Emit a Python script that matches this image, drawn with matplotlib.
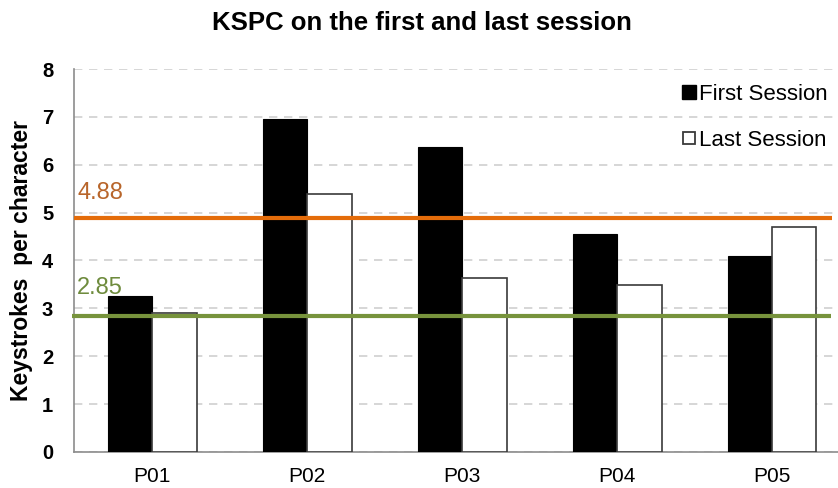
import matplotlib
matplotlib.use("Agg")
import matplotlib.pyplot as plt
import numpy as np
from matplotlib.lines import Line2D

categories = ["P01", "P02", "P03", "P04", "P05"]
first_session = [3.26, 6.95, 6.37, 4.56, 4.09]
last_session = [2.90, 5.38, 3.64, 3.49, 4.70]
ref_high = 4.88
ref_low = 2.85
ref_high_label = "4.88"
ref_low_label = "2.85"
y_ticks = [0, 1, 2, 3, 4, 5, 6, 7, 8]

plt.rcParams['font.family'] = ['Liberation Sans', 'DejaVu Sans']

fig = plt.figure(figsize=(8.38, 4.88), dpi=100)
ax = fig.add_axes([0.0883, 0.0738, 0.9117, 0.7848])

x = np.arange(len(categories))
w = 0.287
ax.bar(x - w / 2, first_session, w, color="black", edgecolor="black", linewidth=0.8, zorder=3)
ax.bar(x + w / 2, last_session, w, color="white", edgecolor="#3a3a3a", linewidth=1.2, zorder=3)

ax.hlines(ref_high, -0.505, 4.39, color="#E46C0A", linewidth=3, zorder=4)
ax.hlines(ref_low, -0.52, 4.38, color="#77933C", linewidth=3, zorder=4, clip_on=False)

ax.text(-0.485, ref_high + 0.52, ref_high_label, color="#B8652A", fontsize=17,
        ha="left", va="center", zorder=5)
ax.text(-0.485, ref_low + 0.58, ref_low_label, color="#6E8B3D", fontsize=17,
        ha="left", va="center", zorder=5)

ax.set_xlim(-0.505, 4.426)
ax.set_ylim(0, 8)
ax.set_yticks(y_ticks)
ax.set_yticklabels([str(t) for t in y_ticks], fontsize=14.5, fontweight="bold")
ax.set_xticks(x)
ax.set_xticklabels(categories, fontsize=15)
ax.tick_params(axis="y", length=0, pad=15)
ax.tick_params(axis="x", length=0, pad=11)

ax.yaxis.grid(True, linestyle=(0, (5, 4)), color="#d0d0d0", linewidth=1.2, zorder=0)
ax.set_axisbelow(True)
for s in ["top", "right"]:
    ax.spines[s].set_visible(False)
for s in ["left", "bottom"]:
    ax.spines[s].set_color("#8c8c8c")
    ax.spines[s].set_linewidth(1.2)

ax.set_ylabel("Keystrokes  per character", fontsize=16.5, fontweight="bold")
ax.yaxis.set_label_coords(-0.054, 0.5)

fig.suptitle("KSPC on the first and last session", fontsize=18.5, fontweight="bold",
             x=0.503, y=0.978, va="top")

handles = [
    Line2D([], [], marker="s", linestyle="none", markersize=10, markerfacecolor="black",
           markeredgecolor="black"),
    Line2D([], [], marker="s", linestyle="none", markersize=9, markerfacecolor="white",
           markeredgecolor="#3a3a3a", markeredgewidth=1.3),
]
ax.legend(handles, ["First Session", "Last Session"], loc="upper right",
          bbox_to_anchor=(0.9985, 0.985), frameon=False, fontsize=16,
          handletextpad=0.05, labelspacing=1.12, handlelength=0.8, borderaxespad=0)

fig.savefig("out.png", dpi=100, facecolor="white")
